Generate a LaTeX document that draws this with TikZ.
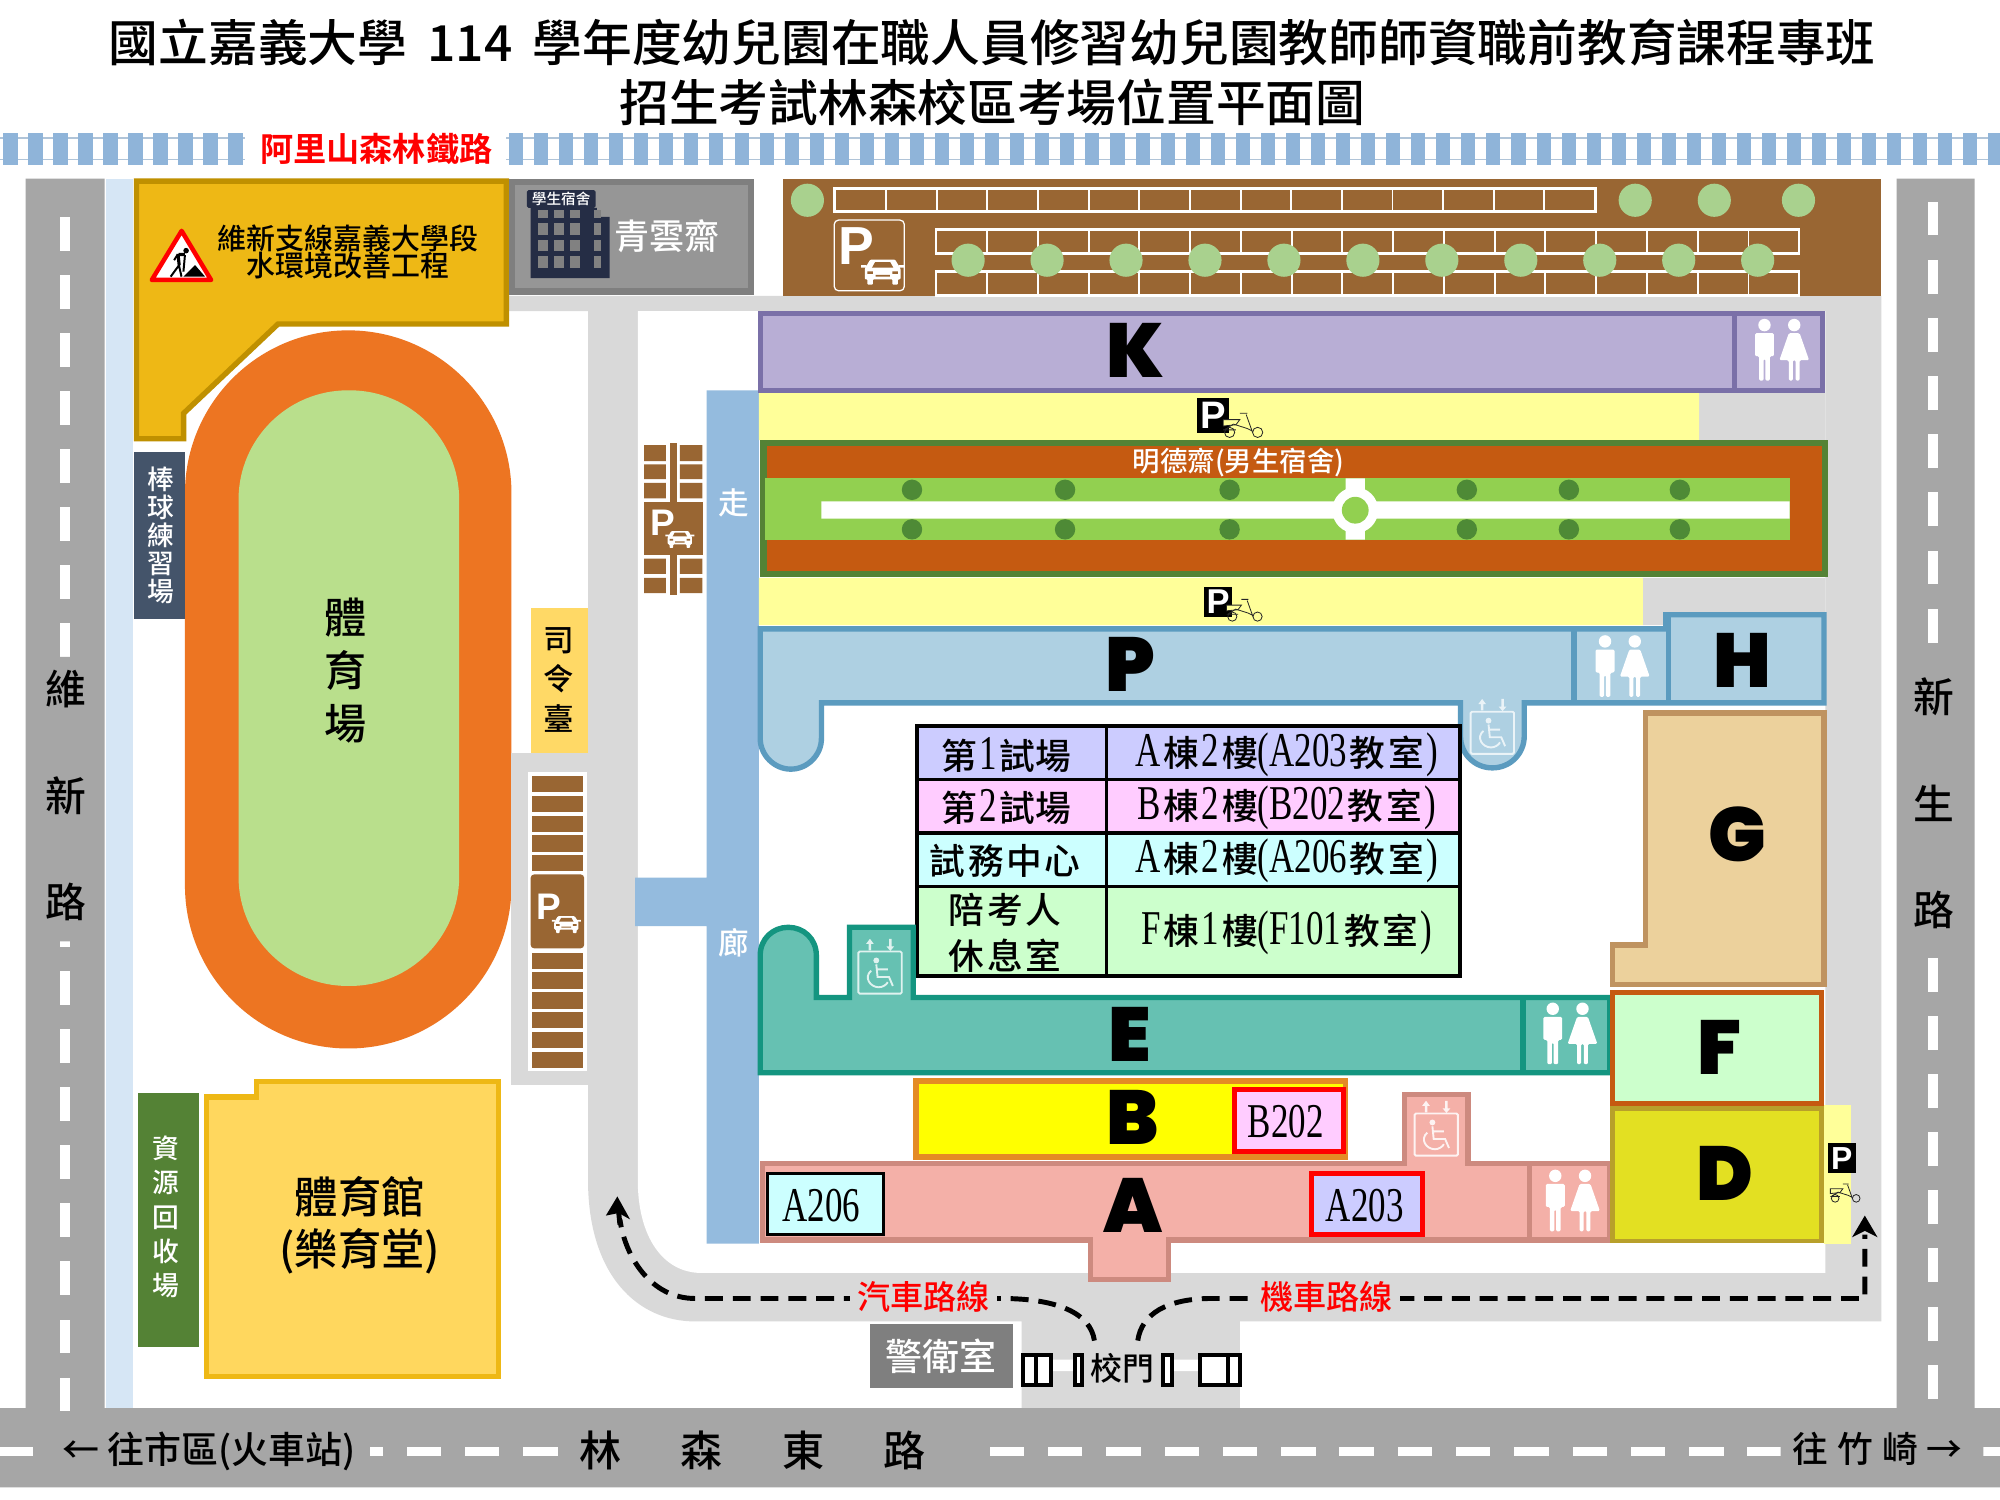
\documentclass[tikz,border=0pt]{standalone}
\usepackage{fontspec}
\usetikzlibrary{arrows.meta}
\setmainfont{Noto Sans CJK TC}[UprightFont=* Medium,BoldFont=* Bold]
\newfontfamily\lat[FakeStretch=.72,Scale=1.36]{Liberation Serif}
\newfontfamily\heavy{Poppins}[UprightFont=* Black]
\newfontfamily\plain{Liberation Sans}
\newcommand\fs[1]{\fontsize{\fpeval{#1*1.4226}}{\fpeval{#1*1.5}}\selectfont}
\newcommand\fsl[2]{\fontsize{\fpeval{#1*1.4226}}{\fpeval{#2*1.4226}}\selectfont}
\definecolor{road}{HTML}{A6A6A6}
\definecolor{lane}{HTML}{D9D9D9}
\definecolor{creek}{HTML}{D6E6F5}
\definecolor{brownp}{HTML}{996633}
\definecolor{tie}{HTML}{8FB4D9}
\definecolor{railc}{HTML}{B0C4D8}
\definecolor{wy}{HTML}{EEB815}
\definecolor{wyb}{HTML}{BF9000}
\definecolor{navy}{HTML}{252D45}
\definecolor{track}{HTML}{ED7522}
\definecolor{field}{HTML}{B9DF8C}
\definecolor{treeL}{HTML}{A9D18E}
\definecolor{slate}{HTML}{44546A}
\definecolor{recyc}{HTML}{548235}
\definecolor{gym}{HTML}{FFD75E}
\definecolor{stage}{HTML}{FFD966}
\definecolor{corr}{HTML}{94BBDE}
\definecolor{kf}{HTML}{B8AED5}
\definecolor{kb}{HTML}{7A70A8}
\definecolor{paleY}{HTML}{FFFF99}
\definecolor{pureY}{HTML}{FFFF00}
\definecolor{pureR}{HTML}{FF0000}
\definecolor{mdo}{HTML}{C55A11}
\definecolor{mdg}{HTML}{92D050}
\definecolor{mdt}{HTML}{4E8A36}
\definecolor{pf}{HTML}{AED0E2}
\definecolor{pb}{HTML}{5B9BBF}
\definecolor{ef}{HTML}{66C1B2}
\definecolor{eb}{HTML}{149580}
\definecolor{bb}{HTML}{E48B25}
\definecolor{af}{HTML}{F4B0A8}
\definecolor{ab}{HTML}{CD8A7F}
\definecolor{gf}{HTML}{ECD19C}
\definecolor{gb}{HTML}{BF9360}
\definecolor{df}{HTML}{E3E022}
\definecolor{db}{HTML}{B8A02A}
\definecolor{c1}{HTML}{CCCCFF}
\definecolor{c2}{HTML}{FFCCFF}
\definecolor{c3}{HTML}{CCFFFF}
\definecolor{c4}{HTML}{CCFFCC}
\definecolor{guard}{HTML}{7F7F7F}
\definecolor{dorm}{HTML}{969696}
\newcommand\gp{\hspace{3pt}}
\tikzset{
  bld/.style={line width=6pt,line join=miter},
  letter/.style={font=\heavy\fs{60},inner sep=0pt},
  wtxt/.style={text=white,inner sep=0pt,align=center},
  ktxt/.style={text=black,inner sep=0pt,align=center},
  redt/.style={text=pureR,inner xsep=8pt,inner ysep=2pt,fill=lane,font=\fs{26}},
  route/.style={line width=5.5pt,dash pattern=on 20pt off 11pt},
  cell/.style={draw=black,line width=4pt},
  tb/.style={text=black,inner sep=0pt,align=center,font=\fsl{28}{36}},
  room/.style={text=black,inner sep=0pt,font=\fs{28}},
  wc/.pic={
    \fill[white] (-11,-19) circle (4.6) (11,-19) circle (4.6);
    \fill[white,rounded corners=1.5pt] (-18,-13)--(-4,-13)--(-4,4)--(-7,4)--(-7,22)--(-10.4,22)--(-10.4,6)--(-11.6,6)--(-11.6,22)--(-15,22)--(-15,4)--(-18,4)--cycle;
    \fill[white,rounded corners=1.5pt] (7,-13)--(15,-13)--(22,7)--(15,7)--(15,22)--(12,22)--(12,7)--(10,7)--(10,22)--(7,22)--(7,7)--(0,7)--cycle;
  },
  car/.pic={
    \fill[white,rounded corners=1pt] (-10,-1)--(-7,-6)--(7,-6)--(10,-1)--(10,5)--(8.5,5)--(8.5,8)--(5.5,8)--(5.5,5)--(-5.5,5)--(-5.5,8)--(-8.5,8)--(-8.5,5)--(-10,5)--cycle;
    \fill[brownp] (-6,-1.5)--(-4.2,-4.7)--(4.2,-4.7)--(6,-1.5)--cycle;
    \fill[brownp] (-8.5,0.5) rectangle (-5.5,2) (5.5,0.5) rectangle (8.5,2) (-4,2.5) rectangle (4,3.5);
    \fill[white] (-12,-3) rectangle (-9,-1.5) (9,-3) rectangle (12,-1.5);
  },
  scoot/.pic={
    \begin{scope}[draw=black!85,line width=.9pt]
    \draw (-11,6) circle (4) (11,6) circle (4);
    \draw[fill=paleY] (-16,-4)--(-3,-4)--(-6,0)--(-16,1)--cycle;
    \draw (-15,4)--(-8,-0.5)--(3,3)--(7,5) (2,-8)--(7,6) (-3,-9)--(3,-9) (-16,4)--(-6,4);
    \end{scope}
  },
  lift/.pic={
    \begin{scope}[draw=white,line width=2.1pt]
    \draw[rounded corners=1.5pt] (-17,-16) rectangle (17,17);
    \fill[white] (-3,-9) circle (2.3);
    \draw (-3,-6)--(-2,4)--(7,4)--(10,11) (-3,-2)--(6,-2);
    \draw (-7,-1) .. controls (-13,4) and (-8,12) .. (-1,12) .. controls (2,12) and (5,10) .. (6,8);
    \end{scope}
    \fill[white] (-9,-17) rectangle (-7,-22) (-11,-22)--(-5,-22)--(-8,-26)--cycle;
    \fill[white] (7,-20) rectangle (9,-26) (5,-20)--(11,-20)--(8,-16.5)--cycle;
  }
}
\begin{document}
\begin{tikzpicture}[x=0.05cm,y=-0.05cm]
\useasboundingbox (0,0) rectangle (1568,1176);
\fill[white] (0,0) rectangle (1568,1176);
% titles
\node[ktxt,font=\fs{39}] (title1) at (778,33) {國立嘉義大學\hspace{10pt} 114\hspace{10pt} 學年度幼兒園在職人員修習幼兒園教師師資職前教育課程專班};
\node[ktxt,font=\fs{39}] (title2) at (778,80) {招生考試林森校區考場位置平面圖};
% railway
\draw[railc,line width=2pt] (0,108)--(192,108) (0,125)--(192,125) (397,108)--(1568,108) (397,125)--(1568,125);
\foreach \i in {0,...,9} \fill[tie] ({2+19.6*\i},104) rectangle ({14+19.6*\i},129);
\foreach \i in {0,...,59} \fill[tie] ({399+19.65*\i},104) rectangle ({410+19.65*\i},129);
\node[inner sep=0pt,text=pureR,font=\bfseries\fs{26}] (rail) at (295,117) {阿里山森林鐵路};
% light grey lanes
\fill[lane] (399,232)--(1475,232)--(1475,1036)--(972,1036)--(972,1104)--(801,1104)--(801,1036)--(545,1036) .. controls (500,1036) and (461,1000) .. (461,925)--(461,244)--(399,244)--cycle;
\fill[white] (500,244)--(1431,244)--(1431,998)--(550,998) .. controls (520,998) and (500,970) .. (500,925)--cycle;
\fill[lane] (1332,308) rectangle (1431,345) (1288,453) rectangle (1431,490);
% roads
\fill[road] (20,140) rectangle (82,1104) (1487,140) rectangle (1548,1104) (0,1104) rectangle (1568,1166);
\fill[creek] (83,140) rectangle (104,1104);
\foreach \i in {0,...,20} \fill[white] (47,{170+45.5*\i}) rectangle (55,{196.6+45.5*\i});
\foreach \i in {0,...,20} \fill[white] (1511.5,{158+45.6*\i}) rectangle (1519.5,{184.6+45.6*\i});
\foreach \i in {0,...,34} \fill[white] ({-1+45.7*\i},1134.5) rectangle ({26+45.7*\i},1141.5);
\fill[road] (22,515) rectangle (80,738) (1489,508) rectangle (1546,748);
\fill[road] (30,1120) rectangle (290,1158) (440,1120) rectangle (770,1158) (1396,1120) rectangle (1555,1158);
\node[wtxt,text=black,font=\fsl{32}{83.5}] (wx) at (52,624) {維\\新\\路};
\node[wtxt,text=black,font=\fsl{32}{83.5}] (xs) at (1516,630) {新\\生\\路};
\node[ktxt,font=\fs{29}] (city) at (164,1138) {← 往市區(火車站)};
\node[ktxt,font=\fs{33}] (linsen) at (590,1137) {林\hspace{66pt}森\hspace{66pt}東\hspace{66pt}路};
\node[ktxt,font=\fs{28}] (zhuqi) at (1472,1136) {往\hspace{10pt}竹\hspace{10pt}崎\hspace{10pt}→};
% works area
\draw[bld,fill=wy,draw=wyb] (107,142)--(397,142)--(397,254)--(218,254)--(144,324)--(144,344)--(107,344)--cycle;
\draw[pureR,line width=5pt,fill=white,line join=round] (142.4,181)--(165.5,219.5)--(119,219.5)--cycle;
\fill[black] (143.8,216.9)--(152.9,207.8)--(160.8,216.9)--cycle;
\fill[black] (145.9,196.5) circle (2.2);
\draw[black,line width=3.5pt] (140,199.5)--(145,199.5) (139.5,199)--(140.5,208);
\draw[black,line width=2.2pt] (140.3,208)--(133.8,216.9) (140.3,208)--(142.3,216.9) (139,200)--(136.5,204) (145,200)--(143.8,213);
\node[ktxt,font=\fs{22.7}] (work1) at (273,187) {維新支線嘉義大學段};
\node[ktxt,font=\fs{22.7}] (work2) at (272.6,208) {水環境改善工程};
% dorm
\draw[draw=guard,fill=dorm,line width=7pt] (401.5,142.5) rectangle (588.5,228.5);
\fill[navy] (416,163) rectangle (468,218) (468,170) rectangle (478,218);
\fill[navy,rounded corners=2pt] (413,149) rectangle (467,163);
\foreach \y/\h in {164.7/6.3,175/9,188/9,201/9} {
  \foreach \x in {422,434,446.8} \fill[dorm!120] (\x,\y) rectangle (\x+8,\y+\h);
  \fill[dorm!120] (466,\y) rectangle (471,\y+\h);
}
\node[wtxt,font=\fs{11.5}] (dormtag) at (440,156) {學生宿舍};
\node[wtxt,font=\fs{27.5}] (qing) at (523,185) {青雲齋};
% top parking
\fill[brownp] (614,140) rectangle (1475,232);
\foreach \i in {0,...,15} \draw[white,line width=2.2pt] ({655+39.7*\i},147.5)--({655+39.7*\i},166);
\draw[white,line width=3.4pt] (654,147.5) rectangle (1251,166);
\foreach \y in {180,213} {
  \foreach \i in {0,...,17} \draw[white,line width=2.2pt] ({734+39.8*\i},\y)--({734+39.8*\i},\y+19);
}
\draw[white,line width=3.4pt] (733,180)--(1411,180) (733,199)--(1411,199) (733,213)--(1411,213) (733,232)--(1411,232);
\fill[treeL] (633,157) circle (13) (1282,157) circle (13) (1344,157) circle (13) (1410,157) circle (13);
\foreach \i in {0,...,10} \fill[treeL] ({759+61.9*\i},204) circle (13);
\draw[white,line width=1.4pt,rounded corners=5pt] (654,172.5) rectangle (709,228);
\node[wtxt,font=\plain\bfseries\fs{42}] (topP) at (671,193) {P};
\pic[scale=1.4] at (692,212) {car};
% track
\fill[track,rounded corners=182pt] (145,259) rectangle (401,822);
\fill[field,rounded corners=122pt] (187,306) rectangle (360,773);
\node[ktxt,font=\fsl{33}{41.5}] (tiyu) at (271,526) {體\\育\\場};
\fill[slate] (105,354) rectangle (145,485);
\node[wtxt,font=\fsl{21}{22}] (base) at (126,420) {棒\\球\\練\\習\\場};
% recycle and gym
\fill[recyc] (108,857) rectangle (156,1056);
\node[wtxt,font=\fsl{21}{27}] (recy) at (130,954) {資\\源\\回\\收\\場};
\draw[line width=6pt,draw=wy,fill=gym] (162,860)--(201,860)--(201,848)--(391,848)--(391,1079)--(162,1079)--cycle;
\node[ktxt,font=\fs{34}] (gymA) at (282,938) {體育館};
\node[ktxt,font=\fs{34}] (gymB) at (282,981) {(樂育堂)};
% stage and west parking
\fill[stage] (416,477) rectangle (461,591);
\node[ktxt,font=\fsl{24}{31}] (stageT) at (438,533) {司\\令\\臺};
\fill[lane] (401,590) rectangle (461,851);
\fill[white] (414,605) rectangle (460,840);
\foreach \i in {0,...,4} \fill[brownp] (417,{608.4+15.5*\i}) rectangle (457,{621.2+15.5*\i});
\foreach \i in {0,...,5} \fill[brownp] (417,{746.9+15.5*\i}) rectangle (457,{759.7+15.5*\i});
\fill[brownp,rounded corners=4pt] (416,685.5) rectangle (458,743.5);
\node[wtxt,font=\plain\bfseries\fs{29}] (westP) at (430.4,711) {P};
\pic[scale=.95] at (444,724) {car};
% north-west small parking
\foreach \a/\b in {349/361.6,364/375.7,378.5/390.7,438/450,453/465} \fill[brownp] (505,\a) rectangle (522,\b) (533,\a) rectangle (550.6,\b);
\fill[brownp] (525.3,347.6) rectangle (530.6,466.6);
\fill[brownp] (505,393.3) rectangle (551,435.2);
\node[wtxt,font=\plain\bfseries\fs{29}] (corP) at (520,410) {P};
\pic[scale=.95] at (533,422) {car};
% corridor
\fill[corr] (554,306) rectangle (595,975) (498,688) rectangle (554,726);
\node[wtxt,font=\fs{24}] (zou) at (575,394) {走};
\node[wtxt,font=\fs{24}] (lang) at (575,739) {廊};
% yellow strips
\fill[paleY] (595,308) rectangle (1332,345) (595,453) rectangle (1288,490);
% K
\draw[bld,fill=kf,draw=kb] (596,246) rectangle (1429,306);
\draw[bld,draw=kb] (1360,246)--(1360,306);
\node[letter] (K) at (890,275) {K};
\pic[scale=1.06] at (1395,275) {wc};
% scooter parking
\node[fill=black,text=white,inner sep=0pt,minimum width=35pt,minimum height=39pt,font=\plain\bfseries\fs{30}] at (951,326) (m1) {P};
\pic at (975,333) {scoot};
\node[fill=black,text=white,inner sep=0pt,minimum width=31pt,minimum height=33pt,font=\plain\bfseries\fs{27}] at (955,472) (m2) {P};
\pic[scale=.9] at (976,478) {scoot};
% Mingde
\draw[line width=7pt,draw=recyc,fill=mdo] (598.5,347.5) rectangle (1431,450);
\fill[mdg] (600,375) rectangle (1403,423);
\fill[white] (644,393) rectangle (1403,406.5) (1055,375) rectangle (1070,423);
\fill[white] (1062.5,400) circle (18);
\fill[mdg] (1062.5,400) circle (10.5);
\foreach \x in {715,835,964,1150,1230,1317} \fill[mdt] (\x,384) circle (8) (\x,415) circle (8);
\node[wtxt,font=\fs{21.5}] (mingde) at (971,363) {明德齋(男生宿舍)};
% P
\draw[bld,fill=pf,draw=pb] (596,493)--(1306,493)--(1306,482)--(1430,482)--(1430,551)--(1195,551)--(1195,577) .. controls (1195,591) and (1184,602) .. (1170,602) .. controls (1156,602) and (1145,591) .. (1145,577)--(1145,551)--(644,551)--(644,579) .. controls (644,592) and (633,603) .. (620,603) .. controls (607,603) and (596,592) .. (596,579)--cycle;
\draw[bld,draw=pb] (1234,493)--(1234,551) (1308,482)--(1308,551);
\node[letter] (Pb) at (886,521) {P};
\node[letter] (H) at (1366,518) {H};
\pic[scale=1.06] at (1270,523) {wc};
\pic[opacity=.75] at (1170,574) {lift};
% table
\draw[cell,fill=c1] (719,569) rectangle (1144.5,611);
\draw[cell,fill=c2] (719,611) rectangle (1144.5,653);
\draw[cell,fill=c3] (719,653) rectangle (1144.5,695);
\draw[cell,fill=c4] (719,695) rectangle (1144.5,765);
\draw[cell] (867.5,569)--(867.5,765);
\node[tb] (t11) at (789,592) {第\gp{\lat 1}\gp 試場};
\node[tb] (t21) at (789,633) {第\gp{\lat 2}\gp 試場};
\node[tb] (t31) at (788,675) {試\gp 務\gp 中\gp 心};
\node[tb] (t41) at (788,731) {陪\gp 考\gp 人\\休\gp 息\gp 室};
\node[tb] (t12) at (1009,592) {{\lat A}\gp 棟\gp{\lat 2}\gp 樓{\lat (A203}\gp 教\gp 室\gp{\lat )}};
\node[tb] (t22) at (1009,633) {{\lat B}\gp 棟\gp{\lat 2}\gp 樓{\lat (B202}\gp 教\gp 室\gp{\lat )}};
\node[tb] (t32) at (1009,675) {{\lat A}\gp 棟\gp{\lat 2}\gp 樓{\lat (A206}\gp 教\gp 室\gp{\lat )}};
\node[tb] (t42) at (1009,731) {{\lat F}\gp 棟\gp{\lat 1}\gp 樓{\lat (F101}\gp 教\gp 室\gp{\lat )}};
% E
\draw[bld,fill=ef,draw=eb] (596,841)--(596,749) .. controls (596,736) and (606,727) .. (618,727) .. controls (630,727) and (640,736) .. (640,749)--(640,782)--(666,782)--(666,727)--(716,727)--(716,782)--(1262,782)--(1262,841)--cycle;
\draw[bld,draw=eb] (1194,782)--(1194,841);
\node[letter] (E) at (886,811) {E};
\pic[scale=1.06] at (1229,811) {wc};
\pic[opacity=.8] at (690,762) {lift};
% A
\draw[bld,fill=af,draw=ab] (598,912)--(1101,912)--(1101,858)--(1151,858)--(1151,912)--(1262,912)--(1262,972)--(916,972)--(916,1003)--(855,1003)--(855,972)--(598,972)--cycle;
\draw[bld,draw=ab] (1199,912)--(1199,972);
\node[letter] (A) at (888,945) {A};
\pic[scale=1.06] at (1231,942) {wc};
\pic[opacity=.85] at (1126,889) {lift};
% B
\draw[bld,fill=pureY,draw=bb] (718,847.5) rectangle (1055,907);
\node[letter] (B) at (888,876) {B};
\draw[pureR,line width=5.5pt,fill=c2] (967.5,854.5) rectangle (1053.5,903);
\node[room] (B202) at (1008,879) {\lat B202};
\draw[pureR,line width=5.5pt,fill=c1] (1028,920) rectangle (1115,968);
\node[room] (A203) at (1070,945) {\lat A203};
\draw[black,line width=3.5pt,fill=c3] (602,920) rectangle (692.5,968);
\node[room] (A206) at (644,945) {\lat A206};
% G, D, F
\draw[bld,fill=gf,draw=gb] (1290,559)--(1430,559)--(1430,772)--(1264,772)--(1264,741)--(1290,741)--cycle;
\node[letter] (G) at (1362,654) {G};
\fill[paleY] (1430,866) rectangle (1451,975);
\node[fill=black,text=white,inner sep=0pt,minimum width=31pt,minimum height=33pt,font=\plain\bfseries\fs{25}] (m3) at (1444,908) {P};
\pic[scale=.75] at (1447,935) {scoot};
\draw[line width=5pt,fill=df,draw=db] (1264,869) rectangle (1428,973);
\node[letter] (D) at (1352,920) {D};
\draw[bld,fill=c4,draw=mdo] (1264,778) rectangle (1428,865);
\node[letter] (F) at (1348,821) {F};
% guard and gate
\node[fill=guard,wtxt,minimum width=112*1.4226pt,minimum height=50*1.4226pt,font=\fs{29}] (guardroom) at (738,1063) {警衛室};
\fill[white] (825,1066) rectangle (842,1075) (920,1066) rectangle (940,1075);
\draw[black,line width=4.5pt,fill=white] (802,1062) rectangle (824,1086);
\draw[black,line width=4.5pt] (812.5,1062)--(812.5,1086);
\draw[black,line width=4.5pt,fill=white] (842.5,1062) rectangle (848.5,1086);
\draw[black,line width=4.5pt,fill=white] (911.5,1062) rectangle (918.5,1086);
\draw[black,line width=4.5pt,fill=white] (941,1062) rectangle (972,1086);
\draw[black,line width=4.5pt] (963,1062)--(963,1086);
\node[ktxt,font=\fs{25}] (gatelabel) at (880,1073) {校門};
% routes
\coordinate (carS) at (858,1051);
\coordinate (carT) at (484,938);
\coordinate (motS) at (892,1051);
\coordinate (motT) at (1462,953);
\draw[route] (carS) .. controls (855,1030) and (830,1018) .. (785,1018)--(545,1018) .. controls (510,1018) and (490,985) .. (486,956);
\draw[line width=5.5pt] (486,960)--(485,950);
\fill[black] (carT)--(494,956)--(485,951)--(475,953)--cycle;
\draw[route] (motS) .. controls (895,1030) and (915,1018) .. (950,1018)--(1462,1018)--(1462,968);
\fill[black] (motT)--(1472,970)--(1462,965)--(1452,970)--cycle;
\node[redt] (carL) at (724,1017) {汽車路線};
\node[redt] (motL) at (1040,1017) {機車路線};
\end{tikzpicture}
\end{document}
